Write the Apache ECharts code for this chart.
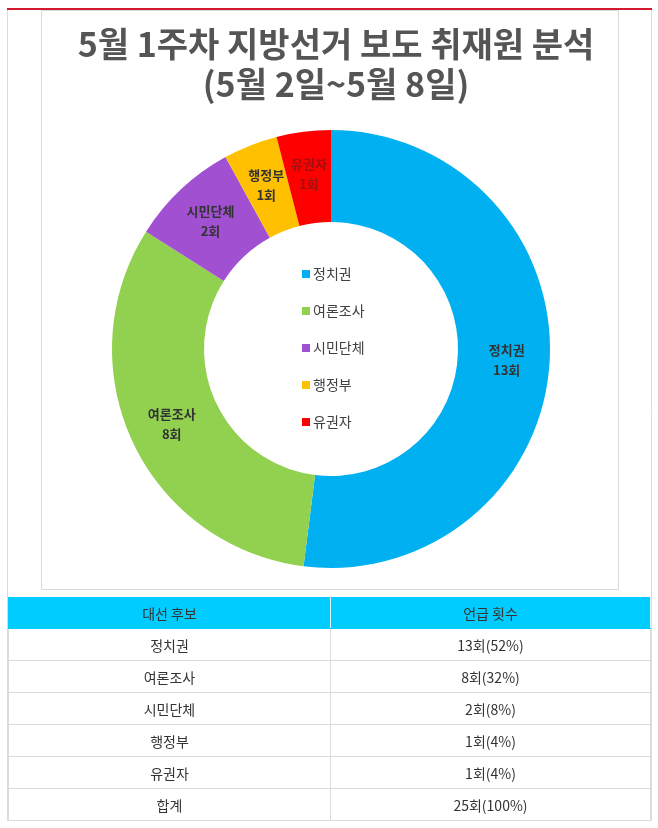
<!DOCTYPE html>
<html>
<head>
<meta charset="utf-8">
<script src="https://cdn.jsdelivr.net/npm/echarts@6/dist/echarts.min.js"></script>
<style>
  html, body { margin: 0; padding: 0; background: #fff; }
  #chart { position: absolute; left: 0; top: 0; width: 658px; height: 828px; }
  #tbl { position: absolute; left: 8px; top: 597px; width: 643px; border-collapse: collapse;
         font-family: "Noto Sans CJK KR", "Noto Sans", sans-serif; font-size: 14px; color: #333; z-index: 2; }
  #tbl td, #tbl th { border: 1px solid #dcdcdc; text-align: center; padding: 0; height: 31px; font-weight: normal; }
  #tbl th { background: #00CCFF; border-color: #00CCFF; border-right-color: #e8f8ff; height: 30px; }
  #tbl tr td:first-child, #tbl tr th:first-child { width: 321px; }
</style>
</head>
<body>
<div id="chart"></div>
<table id="tbl"></table>
<script>
// ---- data ----
const titleLines = ['5월 1주차 지방선거 보도 취재원 분석', '(5월 2일~5월 8일)'];
const categories = ['정치권', '여론조사', '시민단체', '행정부', '유권자'];
const counts = [13, 8, 2, 1, 1];
const tableHeaders = ['대선 후보', '언급 횟수'];
const totalLabel = '합계';
const unit = '회';

// ---- styles ----
const colors = ['#00B0F0', '#92D050', '#A050D0', '#FFC000', '#FF0000'];
const labelColors = ['#333', '#333', '#333', '#333', '#a01010'];

const chart = echarts.init(document.getElementById('chart'), null, { renderer: 'canvas' });
const font = '"Noto Sans CJK KR", "Noto Sans", sans-serif';

chart.setOption({
  backgroundColor: '#fff',
  animation: false,
  title: {
    text: titleLines.join('\n'),
    left: 331,
    textAlign: 'center',
    top: 19,
    textStyle: { fontFamily: font, fontSize: 34, fontWeight: 'bold', color: '#555', lineHeight: 40 }
  },
  legend: {
    orient: 'vertical',
    left: 297,
    top: 261,
    itemWidth: 8,
    itemHeight: 8,
    itemGap: 21,
    icon: 'rect',
    selectedMode: false,
    data: categories,
    textStyle: { fontFamily: font, fontSize: 14, color: '#404040', lineHeight: 16, padding: [0, 0, 0, -2] }
  },
  graphic: [
    { type: 'line', shape: { x1: 7, y1: 9, x2: 652, y2: 9 }, style: { stroke: '#d41a2e', lineWidth: 2 } },
    { type: 'line', shape: { x1: 7.5, y1: 10, x2: 7.5, y2: 821 }, style: { stroke: '#dcdcdc', lineWidth: 1 } },
    { type: 'line', shape: { x1: 651.5, y1: 10, x2: 651.5, y2: 821 }, style: { stroke: '#dcdcdc', lineWidth: 1 } },
    { type: 'rect', shape: { x: 41.5, y: 10.5, width: 577, height: 579 }, style: { fill: 'none', stroke: '#d9d9d9', lineWidth: 1 } }
  ],
  series: [{
    type: 'pie',
    center: [331, 349],
    radius: [127, 219],
    startAngle: 90,
    clockwise: true,
    avoidLabelOverlap: false,
    emphasis: { disabled: true },
    label: {
      show: true,
      position: 'inside',
      formatter: '{b}\n{c}' + unit,
      fontFamily: font,
      fontSize: 13,
      fontWeight: 'bold',
      lineHeight: 20
    },
    labelLine: { show: false },
    data: categories.map((c, i) => ({
      name: c,
      value: counts[i],
      itemStyle: { color: colors[i] },
      label: { color: labelColors[i] }
    }))
  }]
});

// ---- table ----
const total = counts.reduce((a, b) => a + b, 0);
const tbl = document.getElementById('tbl');
let html = '<tr><th>' + tableHeaders[0] + '</th><th>' + tableHeaders[1] + '</th></tr>';
categories.forEach((c, i) => {
  html += '<tr><td>' + c + '</td><td>' + counts[i] + unit + '(' + Math.round(counts[i] / total * 100) + '%)</td></tr>';
});
html += '<tr><td>' + totalLabel + '</td><td>' + total + unit + '(100%)</td></tr>';
tbl.innerHTML = html;
</script>
</body>
</html>
